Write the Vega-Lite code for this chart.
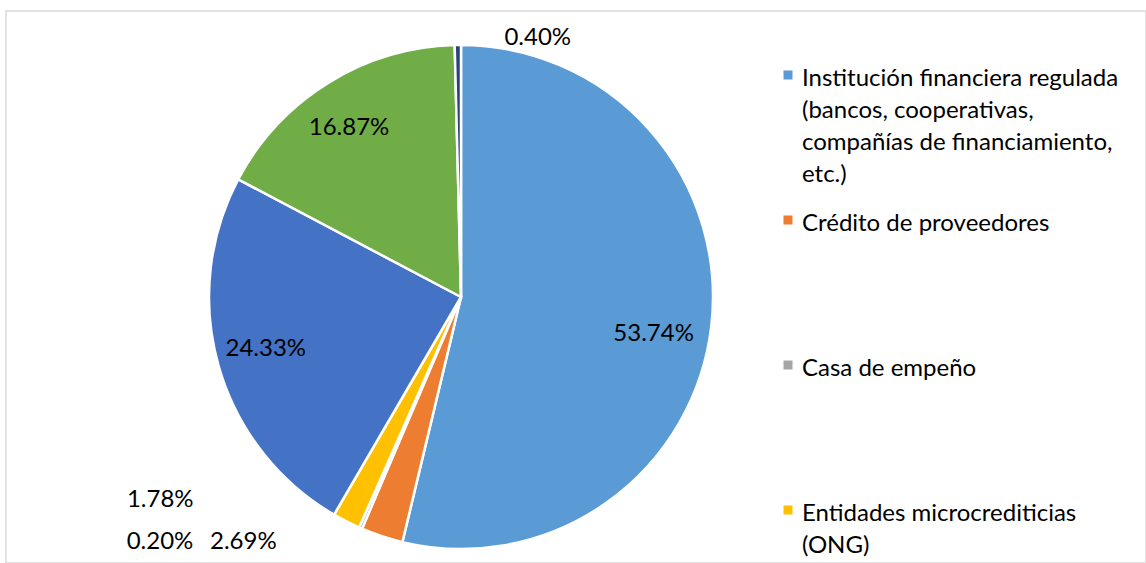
{
  "$schema": "https://vega.github.io/schema/vega-lite/v6.json",
  "width": 1140,
  "height": 552,
  "autosize": {"type": "none"},
  "padding": {"left": 6, "top": 11, "right": 0, "bottom": 0},
  "background": "white",
  "view": {"stroke": "#d9d9d9", "strokeWidth": 1.5},
  "config": {
    "style": {"guide-label": {"lineHeight": 32, "dy": -8}}
  },
  "data": {
    "values": [
      {"fuente": "Institución financiera regulada (bancos, cooperativas, compañías de financiamiento, etc.)", "pct": 53.74, "orden": 1, "etiqueta": "53.74%"},
      {"fuente": "Crédito de proveedores", "pct": 2.69, "orden": 2, "etiqueta": "2.69%"},
      {"fuente": "Casa de empeño", "pct": 0.20, "orden": 3, "etiqueta": "0.20%"},
      {"fuente": "Entidades microcrediticias (ONG)", "pct": 1.78, "orden": 4, "etiqueta": "1.78%"},
      {"fuente": "Familiares o amigos", "pct": 24.33, "orden": 5, "etiqueta": "24.33%"},
      {"fuente": "Prestamistas informales", "pct": 16.87, "orden": 6, "etiqueta": "16.87%"},
      {"fuente": "Otros", "pct": 0.40, "orden": 7, "etiqueta": "0.40%"}
    ]
  },
  "encoding": {
    "theta": {"field": "pct", "type": "quantitative", "stack": true},
    "order": {"field": "orden", "type": "ordinal"}
  },
  "layer": [
    {
      "mark": {"type": "arc", "outerRadius": 252, "x": 455, "y": 286, "stroke": "white", "strokeWidth": 2.5},
      "encoding": {
        "color": {
          "field": "fuente",
          "type": "nominal",
          "scale": {
            "domain": ["Institución financiera regulada (bancos, cooperativas, compañías de financiamiento, etc.)", "Crédito de proveedores", "Casa de empeño", "Entidades microcrediticias (ONG)", "Familiares o amigos", "Prestamistas informales", "Otros"],
            "range": ["#5B9BD5", "#ED7D31", "#A5A5A5", "#FFC000", "#4472C4", "#70AD47", "#264478"]
          },
          "legend": {
            "title": null,
            "orient": "none",
            "legendX": 770,
            "legendY": 52,
            "values": ["Institución financiera regulada (bancos, cooperativas, compañías de financiamiento, etc.)", "Crédito de proveedores", "Casa de empeño", "Entidades microcrediticias (ONG)"],
            "symbolType": "square",
            "symbolSize": 81,
            "symbolStrokeWidth": 0,
            "labelFont": "Lato",
            "labelFontSize": 24,
            "labelColor": "#000000",
            "labelBaseline": "top",
            "labelOffset": 2,
            "labelLimit": 400,
            "rowPadding": 21,
            "labelExpr": "datum.label === 'Crédito de proveedores' ? ['Crédito de proveedores','','',''] : datum.label === 'Casa de empeño' ? ['Casa de empeño','','',''] : datum.label === 'Entidades microcrediticias (ONG)' ? ['Entidades microcrediticias','(ONG)','',''] : ['Institución financiera regulada','(bancos, cooperativas,','compañías de financiamiento,','etc.)']"
          }
        }
      }
    },
    {
      "mark": {"type": "text", "radius": 203, "x": 455, "y": 286, "dx": -9, "dy": 13, "font": "Lato", "fontSize": 24, "color": "#000000"},
      "encoding": {
        "text": {"condition": {"test": "datum.orden === 1", "field": "etiqueta"}, "value": ""}
      }
    },
    {
      "mark": {"type": "text", "radius": 203, "x": 455, "y": 286, "dy": -4, "font": "Lato", "fontSize": 24, "color": "#000000"},
      "encoding": {
        "text": {"condition": {"test": "datum.orden === 5", "field": "etiqueta"}, "value": ""}
      }
    },
    {
      "mark": {"type": "text", "radius": 203, "x": 455, "y": 286, "dx": -5, "dy": 4, "font": "Lato", "fontSize": 24, "color": "#000000"},
      "encoding": {
        "text": {"condition": {"test": "datum.orden === 6", "field": "etiqueta"}, "value": ""}
      }
    },
    {
      "mark": {"type": "text", "radius": 259, "x": 455, "y": 286, "dx": 80, "font": "Lato", "fontSize": 24, "color": "#000000"},
      "encoding": {
        "text": {"condition": {"test": "datum.orden === 7", "field": "etiqueta"}, "value": ""}
      }
    },
    {
      "mark": {"type": "text", "radius": 270, "x": 455, "y": 286, "dx": -178, "dy": -37, "font": "Lato", "fontSize": 24, "color": "#000000"},
      "encoding": {
        "text": {"condition": {"test": "datum.orden === 4", "field": "etiqueta"}, "value": ""}
      }
    },
    {
      "mark": {"type": "text", "radius": 266, "x": 455, "y": 286, "dx": -195, "dy": 1, "font": "Lato", "fontSize": 24, "color": "#000000"},
      "encoding": {
        "text": {"condition": {"test": "datum.orden === 3", "field": "etiqueta"}, "value": ""}
      }
    },
    {
      "mark": {"type": "text", "radius": 257, "x": 455, "y": 286, "dx": -137, "dy": 1, "font": "Lato", "fontSize": 24, "color": "#000000"},
      "encoding": {
        "text": {"condition": {"test": "datum.orden === 2", "field": "etiqueta"}, "value": ""}
      }
    }
  ]
}
